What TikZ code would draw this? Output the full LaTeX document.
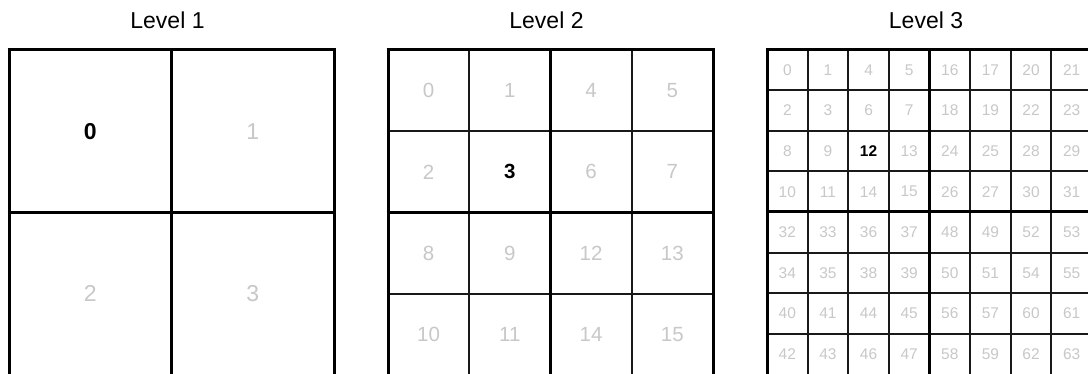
\documentclass[tikz,border=0pt]{standalone}
\usepackage{fontspec}
\setmainfont{Liberation Sans}
\definecolor{cellgray}{HTML}{C8C8C8}
\begin{document}
\begin{tikzpicture}[x=1pt,y=-1pt,
  title/.style={font=\fontsize{23}{27}\selectfont, anchor=base, inner sep=0pt},
  thickline/.style={line width=3pt, black},
  thinline/.style={line width=2pt, black!90},
  cellA/.style={font=\fontsize{23}{27}\selectfont, text=cellgray, inner sep=0pt},
  cellB/.style={font=\fontsize{20.5}{24}\selectfont, text=cellgray, inner sep=0pt},
  cellC/.style={font=\fontsize{15.5}{18}\selectfont, text=cellgray, inner sep=0pt},
  hl/.style={text=black, font=\bfseries}
]
\useasboundingbox (0,0) rectangle (1088,374);
\fill[white] (0,0) rectangle (1088,374);
% titles
\node[title] (t1) at (167.5,29) {Level 1};
\node[title] (t2) at (546.5,29) {Level 2};
\node[title] (t3) at (926,29) {Level 3};
\begin{scope}
\clip (0,0) rectangle (1088,374);
% ---------- Level 1 ----------
\def\xa{9}\def\ya{50}\def\sa{162.5}
\foreach \i in {0,1,2} {
  \draw[thickline] ({\xa+\i*\sa},\ya-1.5) -- ({\xa+\i*\sa},380);
}
\foreach \j in {0,1} {
  \draw[thickline] (\xa-1.5,{\ya+\j*\sa}) -- ({\xa+2*\sa+1.5},{\ya+\j*\sa});
}
\foreach \row [count=\r from 0] in {{0,1},{2,3}} {
  \foreach \v [count=\c from 0] in \row {
    \ifnum\v=0
      \node[cellA,hl,font=\fontsize{23}{27}\selectfont\bfseries] (l1n\v) at ({\xa+(\c+0.5)*\sa},{\ya+(\r+0.5)*\sa}) {\v};
    \else
      \node[cellA] (l1n\v) at ({\xa+(\c+0.5)*\sa},{\ya+(\r+0.5)*\sa}) {\v};
    \fi
  }
}
% ---------- Level 2 ----------
\def\xb{388}\def\yb{50}\def\sb{81.25}
\foreach \i in {1,3} {
  \draw[thinline] ({\xb+\i*\sb},\yb) -- ({\xb+\i*\sb},380);
  \draw[thinline] (\xb,{\yb+\i*\sb}) -- ({\xb+4*\sb},{\yb+\i*\sb});
}
\foreach \i in {0,2,4} {
  \draw[thickline] ({\xb+\i*\sb},\yb-1.5) -- ({\xb+\i*\sb},380);
}
\foreach \j in {0,2} {
  \draw[thickline] (\xb-1.5,{\yb+\j*\sb}) -- ({\xb+4*\sb+1.5},{\yb+\j*\sb});
}
\foreach \row [count=\r from 0] in {{0,1,4,5},{2,3,6,7},{8,9,12,13},{10,11,14,15}} {
  \foreach \v [count=\c from 0] in \row {
    \ifnum\v=3
      \node[cellB,hl,font=\fontsize{20.5}{24}\selectfont\bfseries] (l2n\v) at ({\xb+(\c+0.5)*\sb},{\yb+(\r+0.5)*\sb}) {\v};
    \else
      \node[cellB] (l2n\v) at ({\xb+(\c+0.5)*\sb},{\yb+(\r+0.5)*\sb}) {\v};
    \fi
  }
}
% ---------- Level 3 ----------
\def\xc{767}\def\yc{49.5}\def\sc{40.625}
\foreach \i in {1,2,3,5,6,7} {
  \draw[thinline] ({\xc+\i*\sc},\yc) -- ({\xc+\i*\sc},380);
  \draw[thinline] (\xc,{\yc+\i*\sc}) -- ({\xc+8*\sc},{\yc+\i*\sc});
}
\foreach \i in {0,4,8} {
  \draw[thickline] ({\xc+\i*\sc},\yc-1.5) -- ({\xc+\i*\sc},380);
}
\foreach \j in {0,4} {
  \draw[thickline] (\xc-1.5,{\yc+\j*\sc}) -- ({\xc+8*\sc+1.5},{\yc+\j*\sc});
}
\foreach \row [count=\r from 0] in {
  {0,1,4,5,16,17,20,21},
  {2,3,6,7,18,19,22,23},
  {8,9,12,13,24,25,28,29},
  {10,11,14,15,26,27,30,31},
  {32,33,36,37,48,49,52,53},
  {34,35,38,39,50,51,54,55},
  {40,41,44,45,56,57,60,61},
  {42,43,46,47,58,59,62,63}} {
  \foreach \v [count=\c from 0] in \row {
    \ifnum\v=12
      \node[cellC,hl,font=\fontsize{15.5}{18}\selectfont\bfseries] (l3n\v) at ({\xc+(\c+0.5)*\sc},{\yc+(\r+0.5)*\sc}) {\v};
    \else
      \node[cellC] (l3n\v) at ({\xc+(\c+0.5)*\sc},{\yc+(\r+0.5)*\sc}) {\v};
    \fi
  }
}
\end{scope}
\end{tikzpicture}
\end{document}
